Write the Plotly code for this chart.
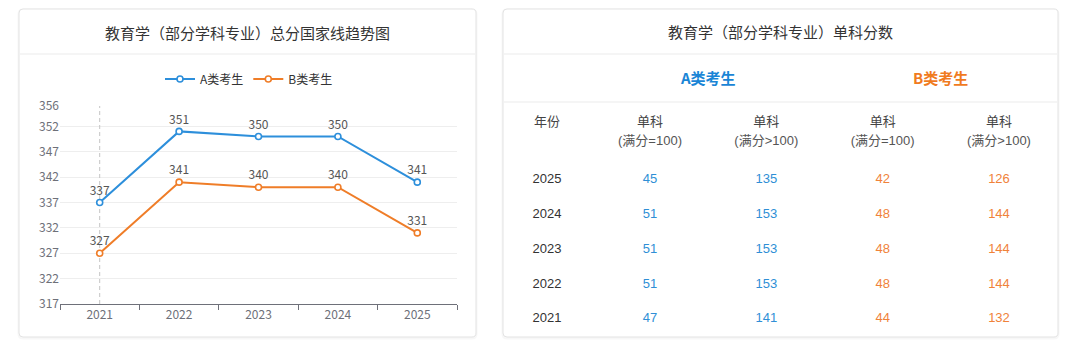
import plotly.graph_objects as go

# ---------------- data ----------------
years = ["2021", "2022", "2023", "2024", "2025"]
score_a = [337, 351, 350, 350, 341]
score_b = [327, 341, 340, 340, 331]
y_ticks = [317, 322, 327, 332, 337, 342, 347, 352, 356]

table_years = ["2025", "2024", "2023", "2022", "2021"]
a_single_100 = [45, 51, 51, 51, 47]
a_single_over = [135, 153, 153, 153, 141]
b_single_100 = [42, 48, 48, 48, 44]
b_single_over = [126, 144, 144, 144, 132]

header_line1 = ["年份", "单科", "单科", "单科", "单科"]
header_line2 = ["", "(满分=100)", "(满分>100)", "(满分=100)", "(满分>100)"]
group_labels = ["A类考生", "B类考生"]

left_title = "教育学（部分学科专业）总分国家线趋势图"
right_title = "教育学（部分学科专业）单科分数"

# ---------------- style ----------------
W, H = 1080, 349
BLUE = "#2d8fdb"
ORANGE = "#ef7d28"
BLUE_T = "#2f8fd6"
ORANGE_T = "#f0823a"
FONT = "Liberation Sans, Noto Sans CJK SC, sans-serif"
CFONT = "Noto Sans CJK SC, Liberation Sans, sans-serif"


def px(x):
    return x / W


def py(y):
    return 1 - y / H


# table helper geometry (pixel -> table axis units)
COL1_PX, COL_STEP = 650, 116.33
ROW0_PX, ROW_STEP = 180, 34.75


def cx(p):
    return 1 + (p - COL1_PX) / COL_STEP


def ry(p):
    return (p - ROW0_PX) / ROW_STEP


col_pos = [0.115, 1, 2, 3, 4]
row_pos = list(range(len(table_years)))

fig = go.Figure()

# axis-pointer style dashed guide at the first category (drawn first, behind the lines)
fig.add_trace(go.Scatter(
    x=[years[0], years[0]], y=[y_ticks[0], y_ticks[-1]], mode="lines",
    line=dict(color="#c4c4c4", width=1, dash="4px,3px"),
    showlegend=False, xaxis="x", yaxis="y", hoverinfo="skip", cliponaxis=False,
))

# ---------------- line chart ----------------
for name, vals, col in [("A类考生", score_a, BLUE), ("B类考生", score_b, ORANGE)]:
    fig.add_trace(go.Scatter(
        x=years, y=vals, name=name,
        mode="lines+markers+text",
        text=[str(v) for v in vals], textposition="top center",
        textfont=dict(size=12, color="#555", family=CFONT),
        line=dict(color=col, width=2),
        marker=dict(symbol="circle", size=6, color="white", line=dict(color=col, width=1.6)),
        cliponaxis=False, xaxis="x", yaxis="y", hoverinfo="skip",
    ))

# ---------------- table cells ----------------
table_cols = [
    (table_years, "#333"),
    (a_single_100, BLUE_T),
    (a_single_over, BLUE_T),
    (b_single_100, ORANGE_T),
    (b_single_over, ORANGE_T),
]
for i, (vals, col) in enumerate(table_cols):
    fig.add_trace(go.Scatter(
        x=[col_pos[i]] * len(vals), y=row_pos,
        mode="text", text=[str(v) for v in vals],
        textposition="middle center",
        textfont=dict(size=13, color=col, family=FONT),
        showlegend=False, xaxis="x2", yaxis="y2", hoverinfo="skip",
    ))

fig.add_trace(go.Scatter(
    x=col_pos, y=[ry(123)] * 5, mode="text", text=header_line1,
    textposition="middle center", textfont=dict(size=13, color="#444", family=FONT),
    showlegend=False, xaxis="x2", yaxis="y2", hoverinfo="skip",
))
fig.add_trace(go.Scatter(
    x=col_pos, y=[ry(142)] * 5, mode="text", text=header_line2,
    textposition="middle center", textfont=dict(size=13, color="#555", family=FONT),
    showlegend=False, xaxis="x2", yaxis="y2", hoverinfo="skip",
))

# ---------------- cards ----------------
def rrect(x0, y0, x1, y1, r=4):
    def P(x, y):
        return f"{px(x):.6f},{py(y):.6f}"
    return (f"M {P(x0 + r, y0)} L {P(x1 - r, y0)} Q {P(x1, y0)} {P(x1, y0 + r)} "
            f"L {P(x1, y1 - r)} Q {P(x1, y1)} {P(x1 - r, y1)} "
            f"L {P(x0 + r, y1)} Q {P(x0, y1)} {P(x0, y1 - r)} "
            f"L {P(x0, y0 + r)} Q {P(x0, y0)} {P(x0 + r, y0)} Z")


shapes = []
for (x0, x1) in [(19, 476), (503, 1058)]:
    shapes.append(dict(type="path", path=rrect(x0, 10, x1, 338), xref="paper", yref="paper",
                       line=dict(color="rgba(0,0,0,0.03)", width=3), layer="below"))
    shapes.append(dict(type="path", path=rrect(x0, 9, x1, 337), xref="paper", yref="paper",
                       line=dict(color="#e3e3e3", width=1), fillcolor="white", layer="below"))

for (x0, x1, y) in [(19, 476, 54), (503, 1058, 54), (503, 1058, 102)]:
    shapes.append(dict(type="line", xref="paper", yref="paper",
                       x0=px(x0 + 1), x1=px(x1 - 1), y0=py(y), y1=py(y),
                       line=dict(color="#ebebeb", width=1), layer="below"))

annotations = [
    dict(text=left_title, x=px(247.5), y=py(32), xref="paper", yref="paper", showarrow=False,
         font=dict(size=15, color="#333", family=CFONT), xanchor="center", yanchor="middle"),
    dict(text=right_title, x=px(780.5), y=py(31), xref="paper", yref="paper", showarrow=False,
         font=dict(size=15, color="#333", family=CFONT), xanchor="center", yanchor="middle"),
    dict(text="<b>" + group_labels[0] + "</b>", x=1.5, y=ry(77), xref="x2", yref="y2", showarrow=False,
         font=dict(size=15, color="#1a85d6", family=CFONT), xanchor="center", yanchor="middle"),
    dict(text="<b>" + group_labels[1] + "</b>", x=3.5, y=ry(77), xref="x2", yref="y2", showarrow=False,
         font=dict(size=15, color="#f07b1e", family=CFONT), xanchor="center", yanchor="middle"),
]

fig.update_layout(
    template="none",
    width=W, height=H,
    margin=dict(l=0, r=0, t=0, b=0, pad=0, autoexpand=False),
    paper_bgcolor="white", plot_bgcolor="rgba(0,0,0,0)",
    font=dict(family=CFONT),
    hovermode=False,
    showlegend=True,
    legend=dict(orientation="h", x=px(249), y=py(79), xanchor="center", yanchor="middle",
                font=dict(size=12, color="#333", family=CFONT), bgcolor="rgba(0,0,0,0)",
                itemwidth=30, tracegroupgap=0),
    xaxis=dict(domain=[px(60), px(457)], anchor="y", type="category", range=[-0.5, 4.5],
               tickson="boundaries", ticks="outside", ticklen=5, tickcolor="#6e7079",
               showline=True, linecolor="#6e7079", linewidth=1, showgrid=False, zeroline=False,
               automargin=False,
               tickfont=dict(size=12, color="#6e7079", family=CFONT), fixedrange=True),
    yaxis=dict(domain=[py(304), py(106)], anchor="x", range=[317, 356], tickvals=y_ticks,
               showgrid=True, gridcolor="#eeeeee", gridwidth=1, showline=False, zeroline=False,
               automargin=False,
               ticks="", tickfont=dict(size=12, color="#6e7079", family=CFONT), fixedrange=True),
    xaxis2=dict(domain=[0, 1], anchor="y2", range=[cx(0), cx(W)], visible=False, fixedrange=True,
                automargin=False),
    yaxis2=dict(domain=[0, 1], anchor="x2", range=[ry(H), ry(0)], visible=False, fixedrange=True,
                automargin=False),
    shapes=shapes,
    annotations=annotations,
)

fig.write_html("out.html")
